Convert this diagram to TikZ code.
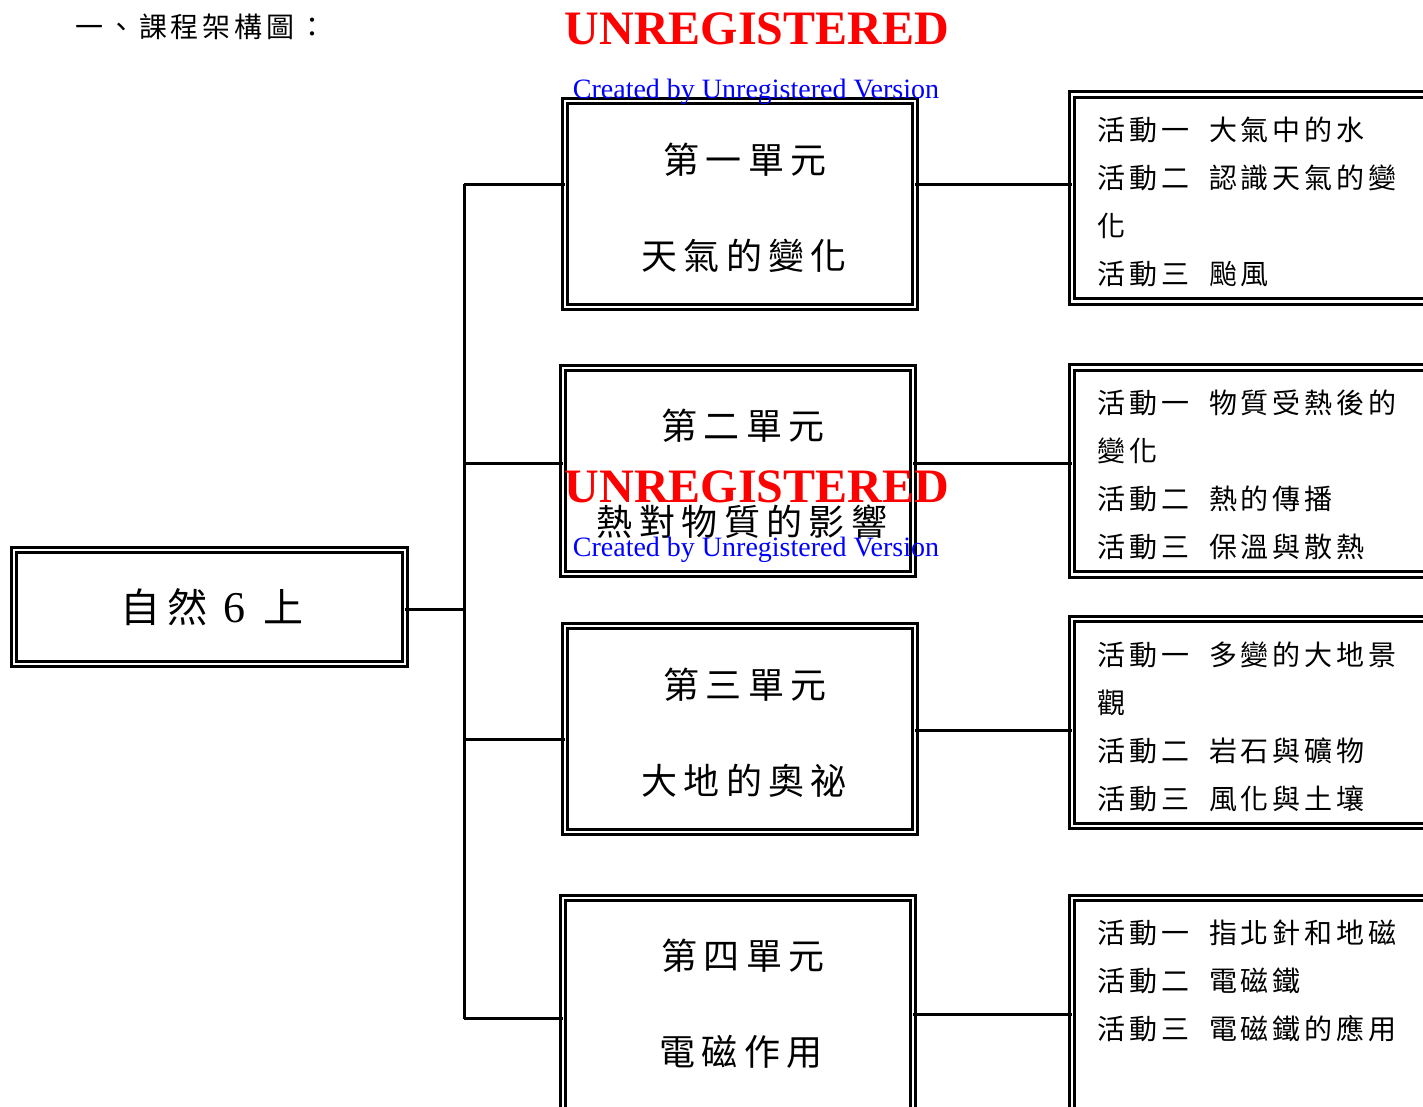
\documentclass[tikz,border=0pt]{standalone}
\usepackage{fontspec}
\setmainfont{Liberation Serif}
\newfontfamily\cjk{Noto Sans CJK TC}[LetterSpace=14]
\newfontfamily\cjku{Noto Sans CJK TC}[LetterSpace=18]
\begin{document}
\begin{tikzpicture}[x=1pt,y=-1pt,
  dbox/.style={draw, line width=2.8pt, double, double distance=2.6pt, inner sep=0pt, outer sep=0pt},
  unitbox/.style={dbox, minimum width=350pt, minimum height=206pt},
  actbox/.style={dbox, minimum width=358pt, minimum height=207pt},
  conn/.style={line width=3pt},
  unittext/.style={inner sep=0pt, font=\cjku\fontsize{36}{42}\selectfont},
  acttext/.style={inner sep=0pt, anchor=west, align=left, font=\cjk\fontsize{28}{48}\selectfont},
  wmred/.style={inner sep=0pt, text=red, font=\bfseries\fontsize{48}{48}\selectfont},
  wmblue/.style={inner sep=0pt, text=blue, font=\fontsize{28}{28}\selectfont}]
\useasboundingbox (0,0) rectangle (1423,1106);
\clip (0,0) rectangle (1423,1106);
\fill[white] (0,0) rectangle (1423,1106);

% title
\node[inner sep=0pt, anchor=west, font=\cjk\fontsize{28}{30}\selectfont] (title) at (75,27) {一、課程架構圖：};

% root
\node[dbox, minimum width=391pt, minimum height=114pt] (root) at (209.5,607) {};
\node[inner sep=0pt, font=\cjku\fontsize{40}{44}\selectfont] (roottext) at (212,607) {自然\hspace{16pt}{\rmfamily\fontsize{44}{44}\selectfont 6}\hspace{18pt}上};

% unit boxes
\node[unitbox] (u1) at (740,204) {};
\node[unitbox] (u2) at (738,471) {};
\node[unitbox] (u3) at (740,729) {};
\node[unitbox, minimum height=222pt] (u4) at (738,1009) {};

\node[unittext] (u1a) at (745,160) {第一單元};
\node[unittext] (u1b) at (744,256) {天氣的變化};
\node[unittext] (u2a) at (743,426) {第二單元};
\node[unittext] (u2b) at (742,522) {熱對物質的影響};
\node[unittext] (u3a) at (745,685) {第三單元};
\node[unittext] (u3b) at (744,781) {大地的奧祕};
\node[unittext] (u4a) at (743,956) {第四單元};
\node[unittext] (u4b) at (741,1052) {電磁作用};

% activity boxes
\node[actbox] (a1) at (1251,198) {};
\node[actbox] (a2) at (1251,471) {};
\node[actbox] (a3) at (1251,722.5) {};
\node[actbox, minimum height=222pt] (a4) at (1251,1009) {};

\node[acttext] (a1t) at (1097,202) {活動一\hspace{20pt}大氣中的水\\活動二\hspace{20pt}認識天氣的變\\化\\活動三\hspace{20pt}颱風};
\node[acttext] (a2t) at (1097,475) {活動一\hspace{20pt}物質受熱後的\\變化\\活動二\hspace{20pt}熱的傳播\\活動三\hspace{20pt}保溫與散熱};
\node[acttext] (a3t) at (1097,727) {活動一\hspace{20pt}多變的大地景\\觀\\活動二\hspace{20pt}岩石與礦物\\活動三\hspace{20pt}風化與土壤};
\node[acttext] (a4t) at (1097,981) {活動一\hspace{20pt}指北針和地磁\\活動二\hspace{20pt}電磁鐵\\活動三\hspace{20pt}電磁鐵的應用};

% trunk coordinates
\coordinate (ttop) at (464,184);
\coordinate (tbot) at (464,1019);
\coordinate (troot) at (464,609);
\coordinate (t1) at (464,184);
\coordinate (t2) at (464,463);
\coordinate (t3) at (464,739);
\coordinate (t4) at (464,1018);

\draw[conn] (ttop) -- (tbot);
\draw[conn] (root.east |- troot) -- (troot);
\draw[conn] (t1) -- (t1 -| u1.west);
\draw[conn] (t2) -- (t2 -| u2.west);
\draw[conn] (t3) -- (t3 -| u3.west);
\draw[conn] (t4) -- (t4 -| u4.west);

\coordinate (c1) at (990,184);
\coordinate (c2) at (990,463);
\coordinate (c3) at (990,730);
\coordinate (c4) at (990,1014);
\draw[conn] (c1 -| u1.east) -- (c1 -| a1.west);
\draw[conn] (c2 -| u2.east) -- (c2 -| a2.west);
\draw[conn] (c3 -| u3.east) -- (c3 -| a3.west);
\draw[conn] (c4 -| u4.east) -- (c4 -| a4.west);

% watermarks
\node[wmred] (w1) at (757,29) {UNREGISTERED};
\node[wmblue] (w2) at (756,92) {Created by Unregistered Version};
\node[wmred] (w3) at (757,487) {UNREGISTERED};
\node[wmblue] (w4) at (756,550) {Created by Unregistered Version};
\end{tikzpicture}
\end{document}
